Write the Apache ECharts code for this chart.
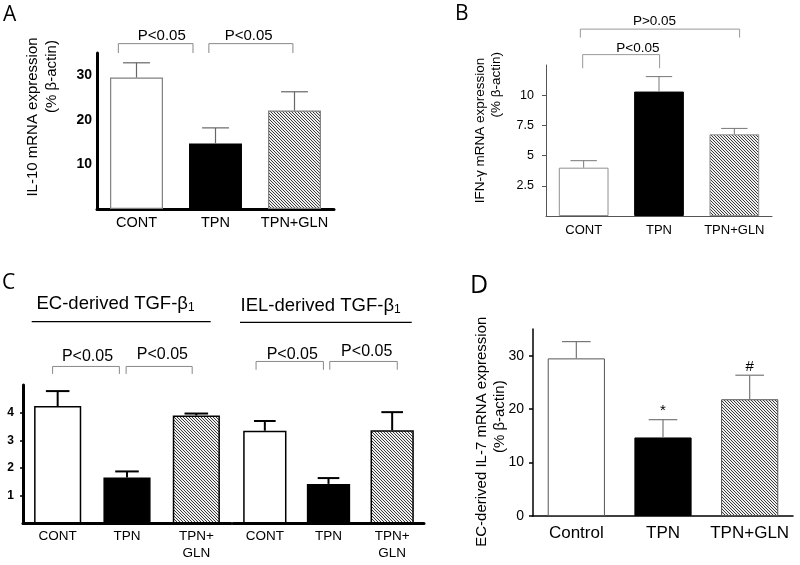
<!DOCTYPE html>
<html><head><meta charset="utf-8">
<script src="https://cdn.jsdelivr.net/npm/echarts@6/dist/echarts.min.js"></script>
<style>html,body{margin:0;padding:0;background:#fff}#c{width:800px;height:565px}</style>
</head><body><div id="c"></div>
<script>
// ---------- data ----------
const catsA = ['CONT', 'TPN', 'TPN+GLN'];
const catsB = ['CONT', 'TPN', 'TPN+GLN'];
const catsC = ['CONT', 'TPN', 'TPN+\nGLN'];
const catsD = ['Control', 'TPN', 'TPN+GLN'];

const il10Mean = [29.5, 14.7, 22.1];
const il10Err = [3.3, 3.5, 4.2];
const ifngMean = [4.0, 10.3, 6.76];
const ifngErr = [0.58, 1.24, 0.49];
const ecTgfMean = [4.24, 1.66, 3.90];
const ecTgfErr = [0.54, 0.22, 0.07];
const ielTgfMean = [3.35, 1.43, 3.37];
const ielTgfErr = [0.35, 0.21, 0.65];
const il7Mean = [29.5, 14.7, 21.85];
const il7Err = [3.14, 3.33, 4.5];
const il7Marks = ['', '*', '#'];

const ticksA = [10, 20, 30];
const ticksB = [2.5, 5, 7.5, 10];
const ticksC = [1, 2, 3, 4];
const ticksD = [0, 10, 20, 30];

// significance brackets: [from, to (category fraction), top value, leg value, text pos, text value, text]
const brkA = [[-0.23, 0.715, 37.1, 35.0, 0.32, 38.9, 'P<0.05'], [0.916, 1.98, 37.1, 35.0, 1.42, 38.9, 'P<0.05']];
const brkB = [[-0.013, 1.008, 13.36, 12.23, 0.72, 13.92, 'P<0.05'], [-0.044, 2.07, 15.47, 14.76, 0.94, 16.12, 'P>0.05']];
const brkC1 = [[-0.073, 0.89, 5.67, 5.40, 0.43, 6.03, 'P<0.05'], [0.987, 1.94, 5.67, 5.40, 1.51, 6.08, 'P<0.05']];
const brkC2 = [[-0.138, 0.92, 5.85, 5.55, 0.43, 6.11, 'P<0.05'], [1.02, 2.08, 5.85, 5.55, 1.6, 6.19, 'P<0.05']];

// ---------- drawing ----------
const FONT = '"Liberation Sans", Arial, Helvetica, sans-serif';
function makeHatch() {
  const c = document.createElement('canvas'); c.width = 3; c.height = 3;
  const g = c.getContext('2d');
  g.fillStyle = '#efefef'; g.fillRect(0, 0, 3, 3);
  g.fillStyle = '#3c3c3c';
  for (let i = 0; i < 3; i++) g.fillRect(i, i, 1, 1);
  return c;
}
const hatchImg = makeHatch();

function barSeries(ax, means, border, bw, width) {
  return {
    type: 'bar', xAxisIndex: ax, yAxisIndex: ax, barWidth: width, z: 2, silent: true,
    data: means.map((v, i) => ({
      value: v,
      itemStyle: i === 0 ? { color: '#fff', borderColor: border, borderWidth: bw }
        : i === 1 ? { color: '#000', borderColor: '#000', borderWidth: bw }
        : { color: { image: hatchImg, repeat: 'repeat' }, borderColor: border, borderWidth: bw }
    }))
  };
}

function errSeries(ax, means, errs, st, marks) {
  return {
    type: 'custom', xAxisIndex: ax, yAxisIndex: ax, z: 5, clip: false, silent: true,
    data: means.map((m, i) => [i, m, errs[i]]),
    renderItem(params, api) {
      const i = api.value(0), m = api.value(1), e = api.value(2);
      const p0 = api.coord([i, m]), p1 = api.coord([i, m + e]);
      const half = api.size([1, 0])[0] * st.cap / 2;
      const ls = { stroke: st.color, lineWidth: st.width };
      const ch = [
        { type: 'line', shape: { x1: p0[0], y1: p0[1], x2: p1[0], y2: p1[1] }, style: ls },
        { type: 'line', shape: { x1: p1[0] - half, y1: p1[1], x2: p1[0] + half, y2: p1[1] }, style: ls }
      ];
      if (marks && marks[params.dataIndex]) {
        ch.push({ type: 'text', x: p1[0], y: p1[1] - 1,
          style: { text: marks[params.dataIndex], fontSize: 15, fontFamily: FONT, fill: '#000', align: 'center', verticalAlign: 'bottom' } });
      }
      return { type: 'group', children: ch };
    }
  };
}

function brkSeries(ax, brks, st) {
  return {
    type: 'custom', xAxisIndex: ax, yAxisIndex: ax, z: 5, clip: false, silent: true,
    data: brks.map(b => [0, b[2]]),
    renderItem(params, api) {
      const b = brks[params.dataIndex];
      const c0 = api.coord([0, b[2]]);
      const band = api.size([1, 0])[0];
      const yl = api.coord([0, b[3]])[1];
      const yt = api.coord([0, b[5]])[1];
      const x0 = c0[0] + b[0] * band, x1 = c0[0] + b[1] * band, xt = c0[0] + b[4] * band;
      return { type: 'group', children: [
        { type: 'polyline', shape: { points: [[x0, yl], [x0, c0[1]], [x1, c0[1]], [x1, yl]] },
          style: { stroke: st.color, lineWidth: st.width, fill: null } },
        { type: 'text', x: xt, y: yt,
          style: { text: b[6], fontSize: st.fontSize, fontFamily: FONT, fill: '#000', align: 'center', verticalAlign: 'middle' } }
      ] };
    }
  };
}

function xAx(gi, data, lw, lc, fs, margin, extra) {
  return Object.assign({
    type: 'category', gridIndex: gi, data: data,
    axisLine: { show: true, lineStyle: { color: lc, width: lw } },
    axisTick: { show: false },
    axisLabel: { interval: 0, margin: margin, fontSize: fs, color: '#000', fontFamily: FONT, lineHeight: 16.5 }
  }, extra || {});
}
function yAx(gi, max, ticks, lw, lc, fs, bold, margin, tickLen, show) {
  return {
    type: 'value', gridIndex: gi, min: 0, max: max, show: show !== false,
    splitLine: { show: false },
    axisLine: { show: true, lineStyle: { color: lc, width: lw } },
    axisTick: { show: tickLen > 0, customValues: ticks, length: tickLen, lineStyle: { color: lc, width: Math.min(lw, 1.5) } },
    axisLabel: { customValues: ticks, margin: margin, fontSize: fs, fontWeight: bold ? 'bold' : 'normal', color: '#000', fontFamily: FONT }
  };
}

function vtext(x, y, text, fs) {
  return { type: 'text', x: x, y: y, rotation: Math.PI / 2,
    style: { text: text, fontSize: fs, fontFamily: FONT, fill: '#000', align: 'center', verticalAlign: 'middle' } };
}
function letter(x, y, t, fs) {
  return { type: 'text', x: x, y: y,
    style: { text: t, fontSize: fs, fontFamily: '"Open Sans", "Noto Sans", sans-serif', fill: '#000', align: 'left', verticalAlign: 'middle' } };
}
function header(x, y, t) {
  return { type: 'text', x: x, y: y,
    style: { text: '{n|' + t + '}{s|1}', fontFamily: FONT, fill: '#000', align: 'left', verticalAlign: 'middle',
      rich: { n: { fontSize: 18.5, fontFamily: FONT, lineHeight: 20 }, s: { fontSize: 12, fontFamily: FONT, lineHeight: 8, verticalAlign: 'bottom' } } } };
}
function hline(x1, x2, y, w) {
  return { type: 'line', shape: { x1: x1, y1: y, x2: x2, y2: y }, style: { stroke: '#000', lineWidth: w } };
}

const option = {
  animation: false,
  backgroundColor: '#fff',
  grid: [
    { left: 97, top: 53, width: 237, height: 156 },
    { left: 546, top: 65, width: 226, height: 151 },
    { left: 23, top: 385, width: 208, height: 138.5 },
    { left: 233, top: 385, width: 191, height: 138.5 },
    { left: 533, top: 329, width: 260, height: 187 }
  ],
  xAxis: [
    xAx(0, catsA, 3, '#000', 14.5, 6),
    xAx(1, catsB, 1, '#555', 13, 6),
    xAx(2, catsC, 3, '#000', 13.5, 5),
    xAx(3, catsC, 3, '#000', 13.5, 5),
    xAx(4, catsD, 1.5, '#000', 17, 9)
  ],
  yAxis: [
    yAx(0, 35, ticksA, 3, '#000', 14, true, 5, 0),
    yAx(1, 12.5, ticksB, 1, '#555', 12.5, false, 12, 4),
    yAx(2, 5, ticksC, 3, '#000', 12, true, 9, 3),
    yAx(3, 5, ticksC, 3, '#000', 12, true, 9, 0, false),
    yAx(4, 35, ticksD, 1.5, '#000', 14, false, 9, 4)
  ],
  series: [
    barSeries(0, il10Mean, '#808080', 1.2, '67%'),
    errSeries(0, il10Mean, il10Err, { color: '#666', width: 1.2, cap: 0.34 }),
    brkSeries(0, brkA, { color: '#888', width: 1, fontSize: 15 }),

    barSeries(1, ifngMean, '#909090', 1, '66%'),
    errSeries(1, ifngMean, ifngErr, { color: '#777', width: 1, cap: 0.35 }),
    brkSeries(1, brkB, { color: '#999', width: 1, fontSize: 13.5 }),

    barSeries(2, ecTgfMean, '#000', 1.5, '68%'),
    errSeries(2, ecTgfMean, ecTgfErr, { color: '#000', width: 2, cap: 0.34 }),
    brkSeries(2, brkC1, { color: '#888', width: 1, fontSize: 16 }),

    barSeries(3, ielTgfMean, '#000', 1.5, '68%'),
    errSeries(3, ielTgfMean, ielTgfErr, { color: '#000', width: 2, cap: 0.34 }),
    brkSeries(3, brkC2, { color: '#888', width: 1, fontSize: 16 }),

    barSeries(4, il7Mean, '#555', 1, '66%'),
    errSeries(4, il7Mean, il7Err, { color: '#777', width: 1.2, cap: 0.33 }, il7Marks)
  ],
  graphic: [
    letter(3, 15, 'A', 21),
    letter(455, 14, 'B', 21),
    letter(2, 283, 'C', 21),
    letter(470, 286, 'D', 25),
    vtext(33, 117, 'IL-10 mRNA expression', 15),
    vtext(52, 76.5, '(% β-actin)', 15),
    vtext(480, 130.5, 'IFN-γ mRNA expression', 13.5),
    vtext(496.7, 84.7, '(% β-actin)', 13.5),
    vtext(481.7, 431.7, 'EC-derived IL-7 mRNA expression', 15),
    vtext(500, 416.7, '(% β-actin)', 15),
    header(36.5, 303.5, 'EC-derived TGF-β'),
    header(240.5, 305.5, 'IEL-derived TGF-β'),
    hline(31.7, 210.7, 321.7, 1.3),
    hline(240, 411.7, 322.3, 1.3)
  ]
};
const chart = echarts.init(document.getElementById('c'), null, { renderer: 'canvas' });
chart.setOption(option);
</script>
</body></html>
